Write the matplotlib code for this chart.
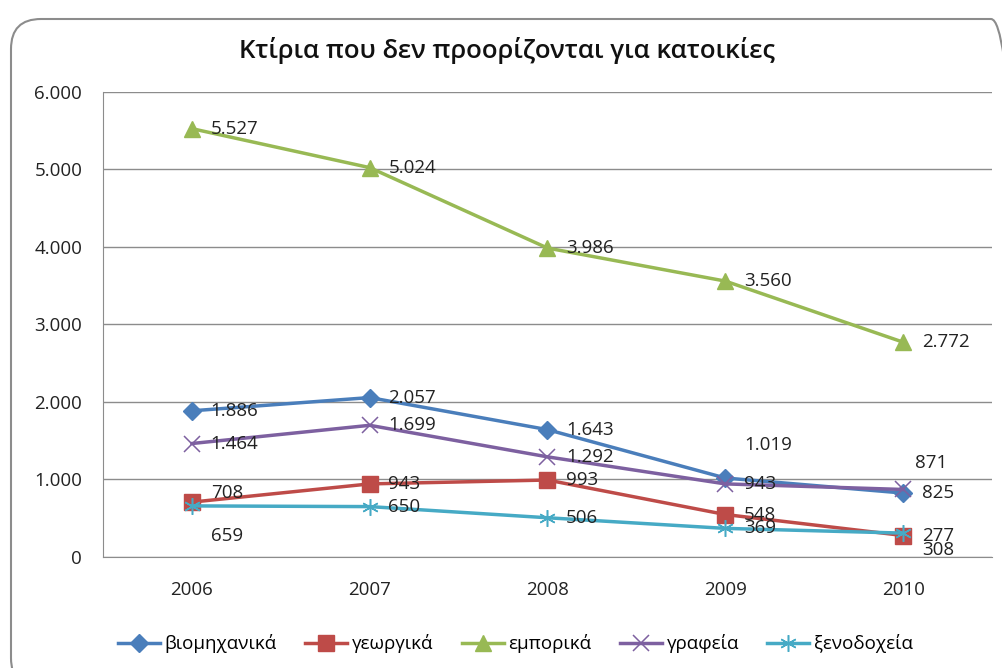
import matplotlib
matplotlib.use('Agg')
import matplotlib.pyplot as plt
from matplotlib.patches import FancyBboxPatch
from matplotlib.ticker import FuncFormatter

plt.rcParams['font.family'] = ['Open Sans', 'DejaVu Sans']

years = ['2006', '2007', '2008', '2009', '2010']
names = ['βιομηχανικά', 'γεωργικά', 'εμπορικά', 'γραφεία', 'ξενοδοχεία']
viomixanika = [1886, 2057, 1643, 1019, 825]
georgika = [708, 943, 993, 548, 277]
emporika = [5527, 5024, 3986, 3560, 2772]
grafeia = [1464, 1699, 1292, 943, 871]
xenodoxeia = [659, 650, 506, 369, 308]

series = [viomixanika, georgika, emporika, grafeia, xenodoxeia]
colors = ['#4A7EBB', '#BE4B48', '#98B954', '#7D60A0', '#46AAC5']
markers = ['D', 's', '^', 'x', (6, 2, 0)]
msizes = [9, 11, 11, 11, 12]

# label offsets in points (dx, dy); default is right of the point
label_off = {(0, 3): (13.5, 24), (3, 4): (8.6, 19), (4, 4): (13.5, -12),
             (4, 0): (13.5, -21.6), (1, 0): (13.5, 6.5)}

fig = plt.figure(figsize=(10.03, 6.68), dpi=100)
box = FancyBboxPatch((0.11, -0.2), 10.1, 6.69, boxstyle='round,pad=0,rounding_size=0.3',
                     transform=fig.dpi_scale_trans, fc='none', ec='#8c8c8c', lw=1.5,
                     zorder=-1)
fig.patches.append(box)

ax = fig.add_axes([0.1027, 0.1662, 0.8863, 0.6961])
ax.patch.set_alpha(0)
x = list(range(len(years)))
for i, s in enumerate(series):
    ax.plot(x, s, color=colors[i], lw=2.5, marker=markers[i], ms=msizes[i],
            mew=1.1 if i >= 3 else 1, label=names[i], zorder=3 + i * 0.1)
    for j, v in enumerate(s):
        dx, dy = label_off.get((i, j), (13.5, 0))
        lab = '{:,}'.format(v).replace(',', '.')
        ax.annotate(lab, (x[j], v), xytext=(dx, dy), textcoords='offset points',
                    ha='left', va='center', fontsize=13.5, color='#222222', zorder=6)

ax.set_xlim(-0.5, 4.5)
ax.set_ylim(0, 6000)
ax.set_yticks(range(0, 6001, 1000))
ax.yaxis.set_major_formatter(FuncFormatter(lambda v, p: '{:,}'.format(int(v)).replace(',', '.')))
ax.set_xticks(x)
ax.set_xticklabels(years)
ax.grid(axis='y', color='#8c8c8c', lw=1)
ax.set_axisbelow(True)
for sp in ['top', 'right']:
    ax.spines[sp].set_visible(False)
for sp in ['left', 'bottom']:
    ax.spines[sp].set_color('#8c8c8c')
ax.tick_params(axis='both', length=0, labelsize=13.5, labelcolor='#222222')
ax.tick_params(axis='y', pad=15)
ax.tick_params(axis='x', pad=17)

fig.text(0.506, 0.925, 'Κτίρια που δεν προορίζονται για κατοικίες', ha='center', va='center',
         fontsize=18.5, fontweight='semibold', color='#111111')

fig.legend(loc='center', bbox_to_anchor=(0.514, 0.036), ncol=5, frameon=False,
           fontsize=13.5, handlelength=2.25, columnspacing=1.5, handletextpad=0.25)

fig.savefig('out.png', dpi=100)
